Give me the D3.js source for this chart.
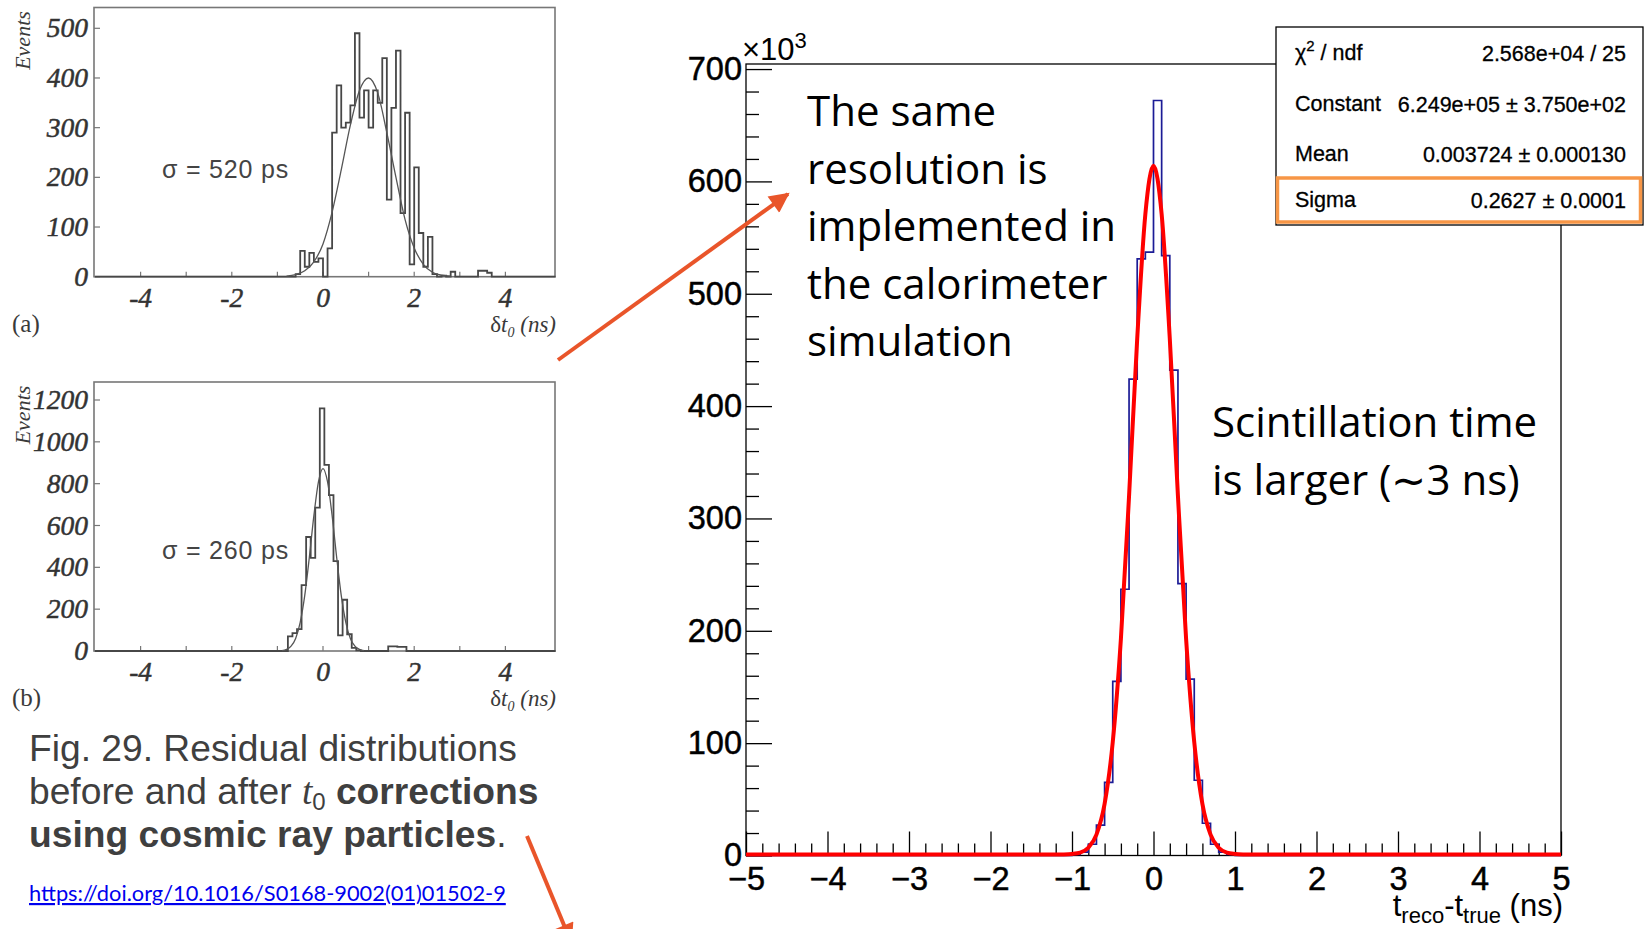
<!DOCTYPE html>
<html>
<head>
<meta charset="utf-8">
<script src="https://cdn.jsdelivr.net/npm/d3@7"></script>
<style>
  body { margin: 0; background: #fff; }
  svg { display: block; }
</style>
</head>
<body>
<div id="chart"></div>
<script>
// ---- data ----
// main plot: t_reco - t_true (ns), counts in units of 10^3, bins 0.1 ns wide
var mainBinLo = [-1.0, -0.9, -0.8, -0.7, -0.6, -0.5, -0.4, -0.3, -0.2, -0.1,
                 0.0, 0.1, 0.2, 0.3, 0.4, 0.5, 0.6, 0.7, 0.8, 0.9];
var mainCounts = [1, 3, 10, 27, 65, 155, 237, 424, 531, 537,
                  672, 534, 432, 242, 157, 67, 28.7, 10, 3, 1];
// gaussian fit as drawn (red)
var fitX = [-5, -1.2, -1.1, -1.0, -0.9, -0.8, -0.7, -0.6, -0.5, -0.4, -0.3, -0.2, -0.1, 0.0,
            0.1, 0.2, 0.3, 0.4, 0.5, 0.6, 0.7, 0.8, 0.9, 1.0, 1.1, 1.2, 5];
var fitY = [0, 0, 0.1, 0.5, 1.7, 6, 17.7, 45, 100, 192, 319, 459, 570, 613,
            570, 459, 319, 192, 100, 45, 17.7, 6, 1.7, 0.5, 0.1, 0, 0];
var mainYTicks = [0, 100, 200, 300, 400, 500, 600, 700];
var mainXTicks = [-5, -4, -3, -2, -1, 0, 1, 2, 3, 4, 5];

var statLabels = ["χ2 / ndf", "Constant", "Mean", "Sigma"];
var statValues = ["2.568e+04 / 25", "6.249e+05 \u00b1 3.750e+02", "0.003724 \u00b1 0.000130", "0.2627 \u00b1 0.0001"];

// panel (a): before t0 corrections, bins 0.1 ns from -0.6
var aBinStart = -0.6;
var aCounts = [5, 52, 20, 48, 30, 37, 0, 57, 290, 385, 300, 310, 345, 490, 320, 375, 300, 375,
               350, 440, 155, 340, 455, 128, 330, 25, 220, 88, 20, 80, 5, 0, 2, 0, 10, 0,
               0, 0, 0, 0, 12, 12, 8];
var aFitX = [-0.8, -0.6, -0.4, -0.2, 0.0, 0.2, 0.4, 0.6, 0.8, 1.0, 1.2, 1.4, 1.6, 1.8, 2.0, 2.2, 2.4, 2.6, 2.8];
var aFitY = [1, 4, 12, 30, 66, 130, 215, 305, 375, 400, 370, 290, 200, 115, 58, 25, 9, 3, 1];

// panel (b): after t0 corrections, bins 0.1 ns from -0.77
var bBinStart = -0.77;
var bCounts = [70, 85, 105, 315, 545, 445, 685, 1160, 890, 745, 430, 75, 245, 80, 15, 3,
               0, 0, 0, 0, 0, 0, 22, 22, 20, 20, 0];
var bFitX = [-0.9, -0.8, -0.7, -0.6, -0.5, -0.4, -0.3, -0.2, -0.1, 0.0, 0.1, 0.2, 0.3, 0.4, 0.5, 0.6, 0.7, 0.8, 0.9];
var bFitY = [2, 8, 23, 60, 137, 266, 447, 647, 808, 872, 808, 647, 447, 266, 137, 60, 23, 8, 2];

var binWidth = 0.1;

var svg = d3.select("#chart")
  .append("svg")
    .attr("width", 1644)
    .attr("height", 929);

svg.append("rect").attr("width", 1644).attr("height", 929).attr("fill", "#fff");

// ================= main ROOT plot =================
var yTop = 704.5;
var mx = d3.scaleLinear().domain([-5, 5]).range([746, 1561]);
var my = d3.scaleLinear().domain([0, yTop]).range([855.5, 64]);
var rootFont = "'Liberation Sans', Arial, Helvetica, sans-serif";

var main = svg.append("g").attr("class", "main");

main.append("rect")
  .attr("x", mx(-5)).attr("y", my(yTop))
  .attr("width", mx(5) - mx(-5)).attr("height", my(0) - my(yTop))
  .attr("fill", "none").attr("stroke", "#000").attr("stroke-width", 1.3);

// y axis
var yMinor = d3.range(0, 701, 20).filter(function(d) { return d % 100 != 0; });
main.append("g")
  .attr("transform", "translate(" + mx(-5) + ",0)")
  .call(d3.axisLeft(my).tickValues(yMinor).tickSizeInner(-13).tickSizeOuter(0).tickFormat(""))
  .call(function(g) { g.select(".domain").remove(); });
var yAxis = main.append("g")
  .attr("transform", "translate(" + mx(-5) + ",0)")
  .call(d3.axisLeft(my).tickValues(mainYTicks).tickSizeInner(-26).tickSizeOuter(0).tickPadding(4));
yAxis.select(".domain").remove();

// x axis
var xMinor = d3.range(-5, 5.001, 0.2).filter(function(d) { return Math.abs(d - Math.round(d)) > 0.01; });
main.append("g")
  .attr("transform", "translate(0," + my(0) + ")")
  .call(d3.axisBottom(mx).tickValues(xMinor).tickSizeInner(-12).tickSizeOuter(0).tickFormat(""))
  .call(function(g) { g.select(".domain").remove(); });
var xAxis = main.append("g")
  .attr("transform", "translate(0," + my(0) + ")")
  .call(d3.axisBottom(mx).tickValues(mainXTicks).tickSizeInner(-24).tickSizeOuter(0).tickPadding(11)
    .tickFormat(function(d) { return d < 0 ? "\u2212" + Math.abs(d) : d; }));
xAxis.select(".domain").remove();

main.selectAll(".tick line").attr("stroke", "#000").attr("stroke-width", 1.3);
main.selectAll(".tick text")
  .attr("font-family", rootFont)
  .attr("font-size", 32.5)
  .attr("fill", "#000")
  .attr("stroke", "#000")
  .attr("stroke-width", 0.5);

// blue histogram
var bluePts = [[-5, 0]];
mainBinLo.forEach(function(lo, i) { bluePts.push([lo, mainCounts[i]]); });
bluePts.push([mainBinLo[mainBinLo.length - 1] + binWidth, 0]);
bluePts.push([5, 0]);

main.append("path")
  .datum(bluePts)
  .attr("fill", "none")
  .attr("stroke", "#1c1c96")
  .attr("stroke-width", 1.7)
  .attr("d", d3.line()
    .x(function(d) { return mx(d[0]); })
    .y(function(d) { return my(d[1]); })
    .curve(d3.curveStepAfter));

// red fit
main.append("path")
  .datum(fitX.map(function(x, i) { return [x, fitY[i]]; }))
  .attr("fill", "none")
  .attr("stroke", "#ff0000")
  .attr("stroke-width", 4)
  .attr("stroke-linejoin", "round")
  .attr("d", d3.line()
    .x(function(d) { return mx(d[0]); })
    .y(function(d) { return my(d[1]) - 1; })
    .curve(d3.curveMonotoneX));

// x10^3
var expo = main.append("text")
  .attr("x", 742).attr("y", 60)
  .attr("font-family", rootFont).attr("font-size", 31);
expo.append("tspan").text("\u00d710");
expo.append("tspan").attr("dy", -12).attr("font-size", 22).text("3");

// axis title
var xt = main.append("text")
  .attr("x", 1563).attr("y", 916)
  .attr("text-anchor", "end")
  .attr("font-family", rootFont).attr("font-size", 31);
xt.append("tspan").text("t");
xt.append("tspan").attr("dy", 7).attr("font-size", 22).text("reco");
xt.append("tspan").attr("dy", -7).text("-t");
xt.append("tspan").attr("dy", 7).attr("font-size", 22).text("true");
xt.append("tspan").attr("dy", -7).text(" (ns)");

// stats box
var stats = main.append("g");
stats.append("rect")
  .attr("x", 1276).attr("y", 27).attr("width", 367).attr("height", 198)
  .attr("fill", "#fff").attr("stroke", "#000").attr("stroke-width", 1.3);
var rowY = [60, 111, 161, 207];
statLabels.forEach(function(lab, i) {
  var t = stats.append("text")
    .attr("x", 1295).attr("y", rowY[i])
    .attr("font-family", rootFont).attr("font-size", 21.5)
    .attr("stroke", "#000").attr("stroke-width", 0.3);
  if (i == 0) {
    t.append("tspan").text("\u03c7");
    t.append("tspan").attr("dy", -9).attr("font-size", 15).text("2");
    t.append("tspan").attr("dy", 9).text(" / ndf");
  } else {
    t.text(lab);
  }
  stats.append("text")
    .attr("x", 1626).attr("y", rowY[i] + 1)
    .attr("text-anchor", "end")
    .attr("font-family", rootFont).attr("font-size", 21.5)
    .attr("stroke", "#000").attr("stroke-width", 0.3)
    .text(statValues[i]);
});
stats.append("rect")
  .attr("x", 1277.5).attr("y", 178).attr("width", 363).attr("height", 44)
  .attr("fill", "none").attr("stroke", "#f79646").attr("stroke-width", 3.5);

// annotations
var noteFont = "'Open Sans', Lato, sans-serif";
var note1 = ["The same", "resolution is", "implemented in", "the calorimeter", "simulation"];
note1.forEach(function(s, i) {
  svg.append("text")
    .attr("x", 807).attr("y", 126 + i * 57.5)
    .attr("font-family", noteFont).attr("font-size", 42)
    .attr("fill", "#000")
    .text(s);
});
var note2 = ["Scintillation time", "is larger (\u223c3 ns)"];
note2.forEach(function(s, i) {
  svg.append("text")
    .attr("x", 1212).attr("y", 437 + i * 57.5)
    .attr("font-family", noteFont).attr("font-size", 42)
    .attr("fill", "#000")
    .text(s);
});

// ================= scanned-paper panels =================
var serif = "'Liberation Serif', 'Times New Roman', serif";
var px = d3.scaleLinear().domain([-5, 5]).range([95, 551]);

function drawPanel(opt) {
  var py = d3.scaleLinear().domain([0, opt.yRef]).range([opt.bottom, opt.yRefPx]);
  var g = svg.append("g");
  var ink = "#474747";

  g.append("rect")
    .attr("x", 94).attr("y", opt.top)
    .attr("width", 461).attr("height", opt.bottom - opt.top)
    .attr("fill", "none").attr("stroke", "#777").attr("stroke-width", 1.6);

  // ticks
  g.selectAll(".yt").data(opt.yTicks).enter().append("line")
    .attr("x1", 94).attr("x2", 100)
    .attr("y1", function(d) { return py(d); }).attr("y2", function(d) { return py(d); })
    .attr("stroke", "#777").attr("stroke-width", 1.2);
  g.selectAll(".yl").data(opt.yTicks).enter().append("text")
    .attr("x", 88).attr("y", function(d) { return py(d) + 9; })
    .attr("text-anchor", "end")
    .attr("font-family", serif).attr("font-style", "italic").attr("font-size", 27.5)
    .attr("fill", "#333").attr("stroke", "#333").attr("stroke-width", 0.5)
    .text(function(d) { return d; });
  g.selectAll(".xt").data([-4, -3, -2, -1, 0, 1, 2, 3, 4]).enter().append("line")
    .attr("x1", function(d) { return px(d); }).attr("x2", function(d) { return px(d); })
    .attr("y1", opt.bottom).attr("y2", opt.bottom - 5)
    .attr("stroke", "#777").attr("stroke-width", 1.2);
  g.selectAll(".xl").data([-4, -2, 0, 2, 4]).enter().append("text")
    .attr("x", function(d) { return px(d); }).attr("y", opt.bottom + 30)
    .attr("text-anchor", "middle")
    .attr("font-family", serif).attr("font-style", "italic").attr("font-size", 27.5)
    .attr("fill", "#333").attr("stroke", "#333").attr("stroke-width", 0.5)
    .text(function(d) { return d; });

  // Events label
  g.append("text")
    .attr("transform", "translate(" + 30 + "," + (opt.top + 33) + ") rotate(-90)")
    .attr("text-anchor", "middle")
    .attr("font-family", serif).attr("font-style", "italic").attr("font-size", 22)
    .attr("fill", "#3a3a3a")
    .text("Events");

  // (a)/(b) and axis title
  g.append("text")
    .attr("x", 12).attr("y", opt.bottom + 55)
    .attr("font-family", serif).attr("font-size", 25).attr("fill", "#3a3a3a")
    .text(opt.tag);
  var at = g.append("text")
    .attr("x", 556).attr("y", opt.bottom + 55)
    .attr("text-anchor", "end")
    .attr("font-family", serif).attr("font-style", "italic").attr("font-size", 23)
    .attr("fill", "#3a3a3a");
  at.append("tspan").attr("font-style", "normal").text("\u03b4");
  at.append("tspan").text("t");
  at.append("tspan").attr("dy", 5).attr("font-size", 14).text("0");
  at.append("tspan").attr("dy", -5).text(" (ns)");

  // sigma label
  g.append("text")
    .attr("x", 162).attr("y", opt.sigmaY)
    .attr("font-family", rootFont).attr("font-size", 25)
    .attr("letter-spacing", 0.8)
    .attr("fill", "#444")
    .text(opt.sigma);

  // histogram
  var pts = [[-5, 0]];
  opt.counts.forEach(function(c, i) { pts.push([opt.start + i * binWidth, c]); });
  pts.push([opt.start + opt.counts.length * binWidth, 0]);
  pts.push([5.1, 0]);
  g.append("path")
    .datum(pts)
    .attr("fill", "none").attr("stroke", ink).attr("stroke-width", 1.8)
    .attr("d", d3.line()
      .x(function(d) { return px(d[0]); })
      .y(function(d) { return py(d[1]); })
      .curve(d3.curveStepAfter));

  // fit curve
  g.append("path")
    .datum(opt.fitX.map(function(x, i) { return [x, opt.fitY[i]]; }))
    .attr("fill", "none").attr("stroke", "#555").attr("stroke-width", 1.3)
    .attr("d", d3.line()
      .x(function(d) { return px(d[0]); })
      .y(function(d) { return py(d[1]); })
      .curve(d3.curveMonotoneX));
}

drawPanel({
  top: 7.5, bottom: 276.7, yRef: 500, yRefPx: 28.3,
  yTicks: [0, 100, 200, 300, 400, 500],
  counts: aCounts, start: aBinStart, fitX: aFitX, fitY: aFitY,
  tag: "(a)", sigma: "\u03c3 = 520 ps", sigmaY: 178
});
drawPanel({
  top: 382, bottom: 651, yRef: 1200, yRefPx: 400,
  yTicks: [0, 200, 400, 600, 800, 1000, 1200],
  counts: bCounts, start: bBinStart, fitX: bFitX, fitY: bFitY,
  tag: "(b)", sigma: "\u03c3 = 260 ps", sigmaY: 559
});

// caption
var capFont = "'Liberation Sans', Arial, sans-serif";
var cap = svg.append("g").attr("font-family", capFont).attr("font-size", 37.2).attr("fill", "#3f3f3f");
cap.append("text").attr("x", 29).attr("y", 761).text("Fig. 29. Residual distributions");
var l2 = cap.append("text").attr("x", 29).attr("y", 804);
l2.append("tspan").text("before and after ");
l2.append("tspan").attr("font-family", serif).attr("font-style", "italic").text("t");
l2.append("tspan").attr("dy", 6).attr("font-size", 24).text("0");
l2.append("tspan").attr("dy", -6).attr("font-weight", "bold").text(" corrections");
var l3 = cap.append("text").attr("x", 29).attr("y", 847);
l3.append("tspan").attr("font-weight", "bold").text("using cosmic ray particles");
l3.append("tspan").text(".");

svg.append("text")
  .attr("x", 29).attr("y", 901)
  .attr("font-family", "Lato, sans-serif").attr("font-size", 21.8)
  .attr("fill", "#0000ee")
  .attr("text-decoration", "underline")
  .text("https://doi.org/10.1016/S0168-9002(01)01502-9");

// arrows
var arrowColor = "#e9552a";
svg.append("defs").append("marker")
  .attr("id", "head")
  .attr("markerUnits", "userSpaceOnUse")
  .attr("viewBox", "0 0 10 10")
  .attr("refX", 9).attr("refY", 5)
  .attr("markerWidth", 22).attr("markerHeight", 20)
  .attr("orient", "auto")
  .append("path")
    .attr("d", "M0,0 L10,5 L0,10 Z")
    .attr("fill", arrowColor);

var arrows = [[[558, 360], [788, 194]], [[527, 836], [571, 942]]];
arrows.forEach(function(a) {
  svg.append("line")
    .attr("x1", a[0][0]).attr("y1", a[0][1])
    .attr("x2", a[1][0]).attr("y2", a[1][1])
    .attr("stroke", arrowColor).attr("stroke-width", 4)
    .attr("marker-end", "url(#head)");
});
</script>
</body>
</html>
